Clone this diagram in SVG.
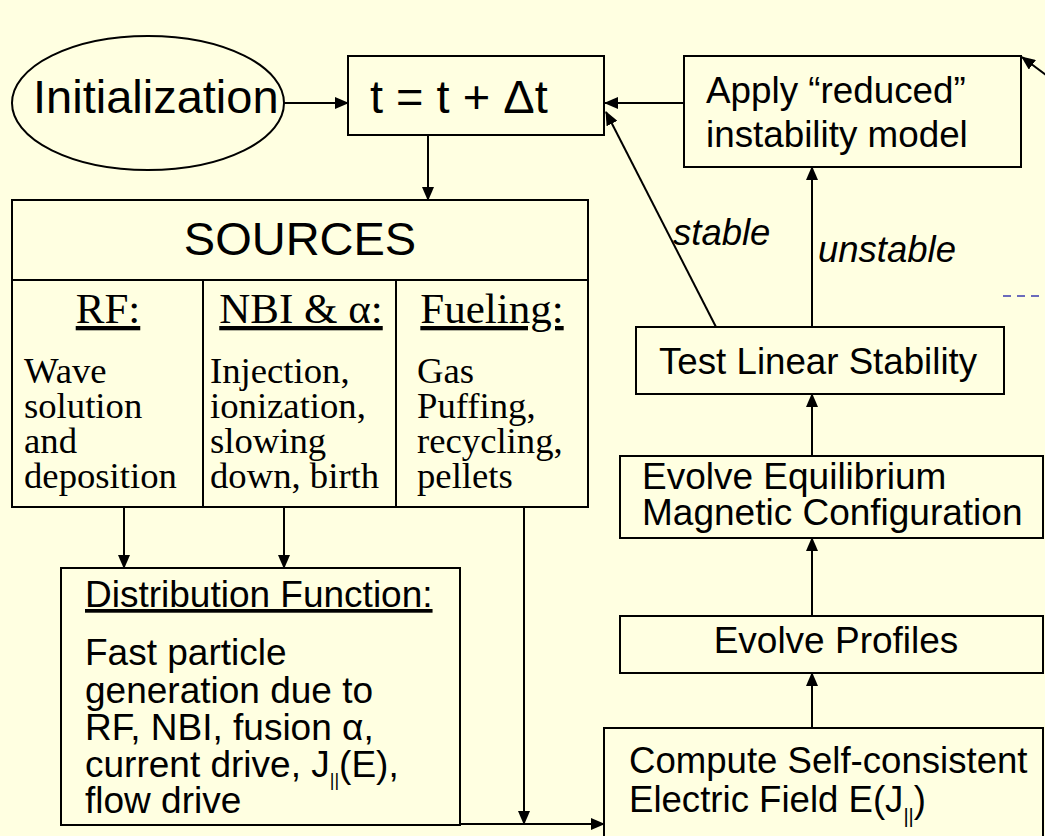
<svg xmlns="http://www.w3.org/2000/svg" width="1045" height="836" viewBox="0 0 1045 836">
<defs>
<marker id="ah" markerUnits="userSpaceOnUse" markerWidth="14" markerHeight="12" refX="13" refY="6" orient="auto">
<path d="M0,0 L14,6 L0,12 z" fill="#000"/>
</marker>
<style>
.box{fill:none;stroke:#000;stroke-width:2}
.s{font-family:"Liberation Sans",Arial,sans-serif;fill:#000}
.r{font-family:"Liberation Serif","Times New Roman",serif;fill:#000}
.c{stroke:#000;stroke-width:2;fill:none}
.a{marker-end:url(#ah)}
</style>
</defs>
<rect width="1045" height="836" fill="#FFFFE1"/>

<g id="init">
<ellipse cx="148" cy="103" rx="136" ry="67" class="box"/>
<text x="33" y="113" class="s" font-size="47">Initialization</text>
</g>

<g id="timestep">
<rect x="348" y="56" width="256" height="79" class="box"/>
<text x="370" y="113" class="s" font-size="47">t = t + Δt</text>
</g>

<g id="apply">
<rect x="684" y="56" width="337" height="111" class="box"/>
<text x="706" y="103" class="s" font-size="36.8">Apply “reduced”</text>
<text x="706" y="147" class="s" font-size="36.8">instability model</text>
</g>

<g id="sources">
<rect x="12" y="200" width="576" height="307" class="box"/>
<line x1="12" y1="280" x2="588" y2="280" class="c"/>
<line x1="203" y1="280" x2="203" y2="507" class="c"/>
<line x1="396" y1="280" x2="396" y2="507" class="c"/>
<text x="300" y="255" class="s" font-size="47" text-anchor="middle">SOURCES</text>
<text x="108" y="323" class="r" font-size="43" text-anchor="middle" text-decoration="underline">RF:</text>
<text x="301" y="323" class="r" font-size="43" text-anchor="middle" text-decoration="underline">NBI &amp; α:</text>
<text x="492" y="323" class="r" font-size="43" text-anchor="middle" text-decoration="underline">Fueling:</text>
<text class="r" font-size="36.7">
<tspan x="24" y="383">Wave</tspan>
<tspan x="24" y="418">solution</tspan>
<tspan x="24" y="453">and</tspan>
<tspan x="24" y="488">deposition</tspan>
</text>
<text class="r" font-size="36.7">
<tspan x="210" y="383">Injection,</tspan>
<tspan x="210" y="418">ionization,</tspan>
<tspan x="210" y="453">slowing</tspan>
<tspan x="210" y="488">down, birth</tspan>
</text>
<text class="r" font-size="36.7">
<tspan x="417" y="383">Gas</tspan>
<tspan x="417" y="418">Puffing,</tspan>
<tspan x="417" y="453">recycling,</tspan>
<tspan x="417" y="488">pellets</tspan>
</text>
</g>

<g id="distribution">
<rect x="61" y="568" width="399" height="257" class="box"/>
<text x="85" y="607" class="s" font-size="37" text-decoration="underline">Distribution Function:</text>
<text class="s" font-size="37">
<tspan x="85" y="665">Fast particle</tspan>
<tspan x="85" y="703">generation due to</tspan>
<tspan x="85" y="740">RF, NBI, fusion α,</tspan>
</text>
<text x="85" y="777" class="s" font-size="37">current drive, J<tspan font-size="18" dy="9">||</tspan><tspan dy="-9">(E),</tspan></text>
<text x="85" y="813" class="s" font-size="37">flow drive</text>
</g>

<g id="test">
<rect x="636" y="327" width="368" height="67" class="box"/>
<text x="659" y="374" class="s" font-size="36.7">Test Linear Stability</text>
</g>

<g id="equilibrium">
<rect x="620" y="456" width="423" height="82" class="box"/>
<text x="642" y="489" class="s" font-size="37">Evolve Equilibrium</text>
<text x="642" y="525" class="s" font-size="37">Magnetic Configuration</text>
</g>

<g id="profiles">
<rect x="620" y="616" width="423" height="57" class="box"/>
<text x="836" y="653" class="s" font-size="37" text-anchor="middle">Evolve Profiles</text>
</g>

<g id="compute">
<rect x="604" y="728" width="439" height="120" class="box"/>
<text x="629" y="773" class="s" font-size="36.6">Compute Self-consistent</text>
<text x="629" y="812" class="s" font-size="36.6">Electric Field E(J<tspan font-size="20" dy="11">||</tspan><tspan dy="-11">)</tspan></text>
</g>

<g id="connectors">
<line x1="284" y1="103" x2="348" y2="103" class="c a"/>
<line x1="428" y1="135" x2="428" y2="200" class="c a"/>
<line x1="684" y1="103" x2="605" y2="103" class="c a"/>
<line x1="716" y1="327" x2="606" y2="112" class="c a"/>
<line x1="812" y1="327" x2="812" y2="167" class="c a"/>
<line x1="812" y1="456" x2="812" y2="394" class="c a"/>
<line x1="812" y1="616" x2="812" y2="538" class="c a"/>
<line x1="812" y1="728" x2="812" y2="673" class="c a"/>
<line x1="124" y1="507" x2="124" y2="568" class="c a"/>
<line x1="284" y1="507" x2="284" y2="568" class="c a"/>
<line x1="524" y1="507" x2="524" y2="824" class="c a"/>
<line x1="460" y1="824" x2="604" y2="824" class="c a"/>
<line x1="1050" y1="78" x2="1022" y2="57" class="c a"/>
<line x1="1003" y1="296" x2="1045" y2="296" stroke="#3B3BB0" stroke-width="1.5" stroke-dasharray="8,6"/>
<text x="673" y="245" class="s" font-size="36.5" font-style="italic">stable</text>
<text x="818" y="262" class="s" font-size="36.5" font-style="italic">unstable</text>
</g>
</svg>
